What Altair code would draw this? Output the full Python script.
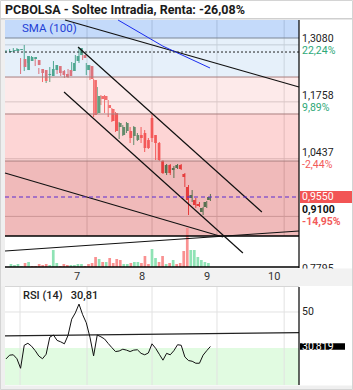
import altair as alt
import pandas as pd

# ---------------- data ----------------
TITLE = "PCBOLSA - Soltec Intradia, Renta: -26,08%"

opens = [1.2914, 1.2937, 1.2937, 1.2960, 1.2752, 1.2496, 1.2705, 1.2752, 1.2728, 1.2520,
         1.2496, 1.2380, 1.2357, 1.2496, 1.2589, 1.2473, 1.2404, 1.2496, 1.2473, 1.2705,
         1.2844, 1.2844, 1.2496, 1.2589, 1.2264, 1.1499, 1.1893, 1.1893, 1.1684, 1.1592,
         1.1499, 1.1174, 1.0988, 1.1081, 1.1081, 1.0965, 1.0872, 1.0988, 1.1035, 1.0872,
         1.1383, 1.0988, 1.0803, 1.0385, 1.0107, 1.0292, 1.0176, 1.0223, 1.0292, 1.0084,
         0.9782, 0.9527, 0.9480, 0.9388, 0.9202, 0.9318, 0.9480]
highs = [1.2960, 1.2984, 1.3007, 1.3007, 1.2775, 1.3077, 1.2821, 1.2821, 1.2752, 1.2543,
         1.2520, 1.2427, 1.2566, 1.2705, 1.2612, 1.2496, 1.2496, 1.2520, 1.2682, 1.2844,
         1.3030, 1.2891, 1.2659, 1.2612, 1.2288, 1.2102, 1.1916, 1.1916, 1.1800, 1.1615,
         1.1522, 1.1290, 1.1220, 1.1290, 1.1174, 1.1197, 1.1035, 1.1174, 1.1104, 1.0919,
         1.1499, 1.0988, 1.0826, 1.0408, 1.0316, 1.0316, 1.0269, 1.0316, 1.0316, 1.0107,
         0.9828, 0.9712, 0.9527, 0.9434, 0.9318, 0.9457, 0.9620]
lows = [1.2891, 1.2914, 1.2914, 1.2937, 1.2404, 1.2473, 1.2659, 1.2728, 1.2589, 1.2404,
        1.2218, 1.2195, 1.2218, 1.2473, 1.2404, 1.2357, 1.2311, 1.2311, 1.2450, 1.2659,
        1.2659, 1.2728, 1.2380, 1.2264, 1.1406, 1.1476, 1.1684, 1.1499, 1.1406, 1.1290,
        1.1058, 1.0896, 1.0965, 1.1035, 1.0803, 1.0756, 1.0849, 1.0803, 1.0594, 1.0664,
        1.0826, 1.0408, 1.0385, 1.0084, 1.0060, 1.0060, 0.9991, 1.0200, 1.0176, 0.9782,
        0.9132, 0.9434, 0.9295, 0.9318, 0.9132, 0.9295, 0.9457]
closes = [1.2937, 1.2960, 1.2984, 1.2984, 1.2566, 1.2821, 1.2798, 1.2798, 1.2612, 1.2427,
          1.2241, 1.2404, 1.2520, 1.2612, 1.2427, 1.2380, 1.2334, 1.2357, 1.2659, 1.2821,
          1.3007, 1.2775, 1.2612, 1.2288, 1.1452, 1.1893, 1.1824, 1.1800, 1.1615, 1.1313,
          1.1081, 1.1267, 1.1174, 1.1267, 1.0919, 1.1174, 1.0988, 1.0919, 1.0687, 1.0687,
          1.0919, 1.0803, 1.0408, 1.0107, 1.0292, 1.0107, 1.0223, 1.0292, 1.0200, 1.0014,
          0.9480, 0.9596, 0.9364, 0.9341, 0.9295, 0.9434, 0.9550]
volumes_k = [6, 4, 6, 2, 8, 10, 2, 2, 6, 4, 6, 4, 34, 8, 2, 6, 4, 4, 4, 6,
             6, 2, 6, 8, 20, 16, 10, 10, 18, 8, 16, 14, 6, 6, 8, 10, 10, 8, 22, 6,
             36, 18, 10, 22, 6, 8, 14, 6, 8, 32, 78, 34, 34, 20, 14, 10, 8]
volume_dir = ["up", "up", "up", "up", "down", "up", "down", "down", "down", "down",
              "down", "up", "up", "up", "down", "down", "down", "up", "up", "up",
              "up", "down", "down", "down", "down", "up", "down", "up", "down", "down",
              "down", "down", "up", "up", "down", "up", "up", "down", "down", "down",
              "up", "up", "down", "down", "up", "down", "up", "down", "down", "down",
              "down", "up", "up", "up", "up", "up", "up"]
rsi_values = [23.9, 26.0, 26.2, 24.0, 18.7, 31.5, 32.6, 31.0, 28.5, 25.5,
              24.0, 26.5, 36.0, 37.2, 34.2, 33.4, 32.3, 37.0, 46.0, 49.5,
              54.4, 48.5, 44.0, 36.0, 25.6, 37.2, 36.2, 35.0, 32.5, 30.2,
              28.0, 28.3, 29.3, 28.8, 28.0, 28.8, 29.0, 27.0, 26.2, 27.2,
              32.3, 29.8, 26.5, 23.2, 27.0, 26.2, 28.5, 31.8, 31.5, 25.0,
              23.0, 22.6, 21.5, 21.5, 26.0, 28.5, 30.81]

# zones (price bands)
band_names = ["z1", "z2", "z3", "z4", "z5"]
band_hi = [1.3657, 1.3239, 1.2334, 1.1476, 1.0385]
band_lo = [1.3239, 1.2334, 1.1476, 1.0385, 0.8645]
band_edges = [1.3239, 1.2334, 1.1476, 1.0385]

# right-axis levels
levels = [1.3080, 1.1758, 1.0437]
level_txt = ["1,3080", "1,1758", "1,0437"]
level_pct = ["22,24%", "9,89%", "-2,44%"]
support = [0.9100]
support_txt = ["0,9100"]
support_pct = ["-14,95%"]
bottom_level = [0.7795]
bottom_txt = ["0,7795"]
last_price = 0.9550
last_txt = "0,9550"
top_dotted = 1.2914
vol_top = 0.8645

# trend lines (candle index, price)
trend_lines = {
    "t1": ([16.16, 80.27], [1.3657, 1.2102]),
    "t2": ([19.73, 70.10], [1.3030, 0.9202]),
    "t3": ([15.90, 64.90], [1.1986, 0.8251]),
    "t4": ([-0.27, 59.45], [1.0107, 0.8622]),
    "t5": ([-0.27, 80.27], [0.8297, 0.8761]),
}
sma_i = [30.7, 43.0, 55.9]
sma_p = [1.3657, 1.3050, 1.2543]

rsi_trend_i = [-0.27, 80.27]
rsi_trend_v = [36.7, 38.5]

day_names = ["7", "8", "9", "10"]
day_grid = [22.2, 40.0, 57.8, 76.2]
rsi_grid = [3.84, 22.2, 40.0, 57.8, 76.2]

RSI_LABEL = "RSI (14)\u00a0\u00a0\u00a030,81"

# ---------------- frames ----------------
n = len(closes)
cdf = pd.DataFrame({"i": list(range(n)), "o": opens, "h": highs, "l": lows, "c": closes,
                    "v": volumes_k, "vd": volume_dir, "rsi": rsi_values})
cdf["dir"] = ["up" if c >= o else "down" for o, c in zip(opens, closes)]

bdf = pd.DataFrame({"name": band_names, "lo": band_lo, "hi": band_hi})
tl_rows = []
for k, (xs, ps) in trend_lines.items():
    for a, b in zip(xs, ps):
        tl_rows.append({"line": k, "i": a, "p": b})
tdf = pd.DataFrame(tl_rows)
sdf = pd.DataFrame({"i": sma_i, "p": sma_p})

GREEN = "#2e9a6e"
RED = "#f25454"
FONT = "Roboto"
LBL = 10.5

XSC = dict(domain=[-0.27, 80.27], range=[5, 299])
PSC = dict(domain=[0.7926, 1.3657], range=[267, 20])
RSC = dict(domain=[9.4, 63.9], range=[385, 287])


def X(f="i"):
    return alt.X(f"{f}:Q", scale=alt.Scale(**XSC), axis=None)


def YP(f):
    return alt.Y(f"{f}:Q", scale=alt.Scale(**PSC), axis=None)


def YR(f):
    return alt.Y(f"{f}:Q", scale=alt.Scale(**RSC), axis=None)


one = pd.DataFrame({"a": [0]})


def box(x1, x2, y1, y2, color):
    return alt.Chart(one).mark_rect(color=color).encode(
        x=alt.value(x1), x2=alt.value(x2), y=alt.value(y1), y2=alt.value(y2))


dir_color = alt.Color("dir:N", scale=alt.Scale(domain=["up", "down"], range=[GREEN, RED]), legend=None)

layers = []
# background strips
layers.append(box(0, 5, 19, 390, "#efefef"))
layers.append(box(0, 353, 18, 19.5, "#cfcfcf"))

# vertical day grid (main)
gdf = pd.DataFrame({"i": day_grid, "name": day_names})
layers.append(alt.Chart(gdf).mark_rule(color="#d8d8d8", strokeWidth=1).encode(
    x=X(), y=alt.value(20), y2=alt.value(267)))
# level grid lines
ldf = pd.DataFrame({"p": levels + support})
layers.append(alt.Chart(ldf).mark_rule(color="#cfcfcf", strokeWidth=1).encode(
    y=YP("p"), x=alt.value(5), x2=alt.value(299)))

# candles
cbase = alt.Chart(cdf)
layers.append(cbase.mark_rule(strokeWidth=1).encode(x=X(), y=YP("l"), y2=alt.Y2("h:Q"), color=dir_color))
layers.append(cbase.mark_bar(size=2.7).encode(x=X(), y=YP("o"), y2=alt.Y2("c:Q"), color=dir_color))

# band overlays
layers.append(alt.Chart(bdf).mark_rect(opacity=0.27).encode(
    x=alt.value(5), x2=alt.value(299), y=YP("lo"), y2=alt.Y2("hi:Q"),
    color=alt.Color("name:N", scale=alt.Scale(domain=band_names,
                    range=["#2576ed", "#a2c7ed", "#f8b1b1", "#f86363", "#c80000"]), legend=None)))
# band edges
edf = pd.DataFrame({"p": band_edges, "k": ["a", "b", "b", "b"]})
layers.append(alt.Chart(edf).mark_rule(strokeWidth=1).encode(
    y=YP("p"), x=alt.value(5), x2=alt.value(299),
    color=alt.Color("k:N", scale=alt.Scale(domain=["a", "b"], range=["#7d8796", "#a97f7f"]), legend=None)))

# volume area
vdf = pd.DataFrame({"lo": [PSC["domain"][0]], "hi": [vol_top]})
layers.append(alt.Chart(vdf).mark_rect(color="white").encode(
    x=alt.value(5), x2=alt.value(299), y=YP("lo"), y2=alt.Y2("hi:Q")))
layers.append(cbase.mark_bar(size=2.7).encode(
    x=X(), y=alt.Y("v:Q", scale=alt.Scale(domain=[0, 494], range=[267, 20]), axis=None),
    color=alt.Color("vd:N", scale=alt.Scale(domain=["up", "down"], range=["#8fe3b5", "#f99191"]), legend=None)))
layers.append(alt.Chart(vdf).mark_rule(color="black", strokeWidth=1.5).encode(
    y=YP("hi"), x=alt.value(5), x2=alt.value(299)))
layers.append(alt.Chart(vdf).mark_rule(color="black", strokeWidth=1.5).encode(
    y=YP("lo"), x=alt.value(5), x2=alt.value(299)))

# trend lines
layers.append(alt.Chart(tdf).mark_line(color="#111111", strokeWidth=1.2).encode(
    x=X(), y=YP("p"), detail="line:N"))
layers.append(alt.Chart(sdf).mark_line(color="#1a2cf0", strokeWidth=1).encode(x=X(), y=YP("p")))

# dotted top and current price line
layers.append(alt.Chart(pd.DataFrame({"p": [top_dotted]})).mark_rule(
    color="#222222", strokeWidth=1, strokeDash=[2, 2]).encode(y=YP("p"), x=alt.value(5), x2=alt.value(299)))
layers.append(alt.Chart(pd.DataFrame({"p": [last_price]})).mark_rule(
    color="#5a2bd0", strokeWidth=1, strokeDash=[4, 3]).encode(y=YP("p"), x=alt.value(5), x2=alt.value(299)))

# right axis line
layers.append(alt.Chart(one).mark_rule(color="black", strokeWidth=1.2).encode(
    x=alt.value(299), y=alt.value(20), y2=alt.value(268)))

# right labels
lt = pd.DataFrame({"p": levels, "t": level_txt, "pc": level_pct,
                   "s": ["pos" if not s.startswith("-") else "neg" for s in level_pct]})
layers.append(alt.Chart(lt).mark_text(align="left", baseline="middle", dy=-6, fontSize=LBL, font=FONT,
                                      color="#222222").encode(x=alt.value(302), y=YP("p"), text="t:N"))
layers.append(alt.Chart(lt).mark_text(align="left", baseline="middle", dy=6, fontSize=LBL, font=FONT).encode(
    x=alt.value(302), y=YP("p"), text="pc:N",
    color=alt.Color("s:N", scale=alt.Scale(domain=["pos", "neg"], range=["#2ea878", "#f25a5a"]), legend=None)))
st = pd.DataFrame({"p": support, "t": support_txt, "pc": support_pct})
layers.append(alt.Chart(st).mark_text(align="left", baseline="middle", dy=-6, fontSize=LBL, font=FONT,
                                      fontWeight="bold", color="#111111").encode(
    x=alt.value(302), y=YP("p"), text="t:N"))
layers.append(alt.Chart(st).mark_text(align="left", baseline="middle", dy=6, fontSize=LBL, font=FONT,
                                      fontWeight="bold", color="#f25a5a").encode(
    x=alt.value(302), y=YP("p"), text="pc:N"))
bt = pd.DataFrame({"p": bottom_level, "t": bottom_txt})
layers.append(alt.Chart(bt).mark_text(align="left", baseline="middle", dy=-4, fontSize=LBL, font=FONT,
                                      color="#222222").encode(x=alt.value(302), y=YP("p"), text="t:N"))
cur = pd.DataFrame({"p": [last_price], "t": [last_txt]})
layers.append(alt.Chart(cur).mark_point(
    shape="M-1,-0.23L1,-0.23L1,0.23L-1,0.23Z", size=2809, filled=True, opacity=1, color="#f25454").encode(
    x=alt.value(326.5), y=YP("p")))
layers.append(alt.Chart(cur).mark_text(align="left", baseline="middle", fontSize=LBL, font=FONT,
                                       color="white").encode(x=alt.value(302), y=YP("p"), text="t:N"))

# SMA label
layers.append(alt.Chart(pd.DataFrame({"t": ["SMA (100)"]})).mark_text(
    align="left", baseline="middle", fontSize=11.5, font=FONT, color="#1f3fd6").encode(
    x=alt.value(22), y=alt.value(29), text="t:N"))

# x axis strip
layers.append(box(0, 353, 268.5, 286, "#f2f2f2"))
layers.append(alt.Chart(gdf).mark_text(baseline="middle", fontSize=11, font=FONT, color="#333333", dx=-10).encode(
    x=X(), y=alt.value(277), text="name:N"))

# ---------------- RSI panel ----------------
layers.append(box(5, 299, 286, 287, "#d6d6d6"))
layers.append(alt.Chart(pd.DataFrame({"v": [30.0]})).mark_rect(color="#e1fbe1").encode(
    x=alt.value(5), x2=alt.value(299), y=YR("v"), y2=alt.value(385)))
rg = pd.DataFrame({"i": rsi_grid})
layers.append(alt.Chart(rg).mark_rule(color="#e2e2e2", strokeWidth=1).encode(
    x=X(), y=alt.value(287), y2=alt.value(385)))
layers.append(alt.Chart(pd.DataFrame({"v": [50.0]})).mark_rule(color="#e2e2e2", strokeWidth=1).encode(
    y=YR("v"), x=alt.value(5), x2=alt.value(299)))
layers.append(alt.Chart(pd.DataFrame({"i": rsi_trend_i, "v": rsi_trend_v})).mark_line(
    color="#222222", strokeWidth=1.2).encode(x=X(), y=YR("v")))
layers.append(cbase.mark_line(color="#111111", strokeWidth=1).encode(x=X(), y=YR("rsi")))
layers.append(alt.Chart(one).mark_rule(color="black", strokeWidth=1.2).encode(
    x=alt.value(299), y=alt.value(287), y2=alt.value(385)))
layers.append(alt.Chart(pd.DataFrame({"v": [50.0], "t": ["50"]})).mark_text(
    align="left", baseline="middle", fontSize=LBL, font=FONT, color="#222222").encode(
    x=alt.value(302), y=YR("v"), text="t:N"))
rl = pd.DataFrame({"v": [rsi_values[-1]], "t": ["30,819"]})
layers.append(alt.Chart(rl).mark_point(
    shape="M-1,-0.14L1,-0.14L1,0.14L-1,0.14Z", size=2025, filled=True, opacity=1, color="black").encode(
    x=alt.value(322.5), y=YR("v")))
layers.append(alt.Chart(rl).mark_text(align="left", baseline="middle", fontSize=LBL, font=FONT,
                                      color="white").encode(x=alt.value(302), y=YR("v"), text="t:N"))
layers.append(alt.Chart(pd.DataFrame({"t": [RSI_LABEL]})).mark_text(
    align="left", baseline="middle", fontSize=11, font=FONT, fontWeight=500, color="#222222").encode(
    x=alt.value(23), y=alt.value(296), text="t:N"))
layers.append(box(0, 353, 385.5, 390, "#efefef"))

# title
layers.append(alt.Chart(pd.DataFrame({"t": [TITLE]})).mark_text(
    align="left", baseline="middle", fontSize=12.5, font=FONT, fontWeight="bold", color="#1a1a1a").encode(
    x=alt.value(5), y=alt.value(10), text="t:N"))
# outer frame
layers.append(alt.Chart(one).mark_rect(fillOpacity=0, stroke="#d4d4d4", strokeWidth=1).encode(
    x=alt.value(0.5), x2=alt.value(352.5), y=alt.value(0.5), y2=alt.value(389.5)))

chart = alt.layer(*layers).resolve_scale(
    x="independent", y="independent", color="independent"
).properties(
    width=353, height=390, padding=0, autosize=alt.AutoSizeParams(type="none"), background="white"
).configure_view(stroke=None)

chart.save("out.html", embed_options={"renderer": "svg", "actions": False})
